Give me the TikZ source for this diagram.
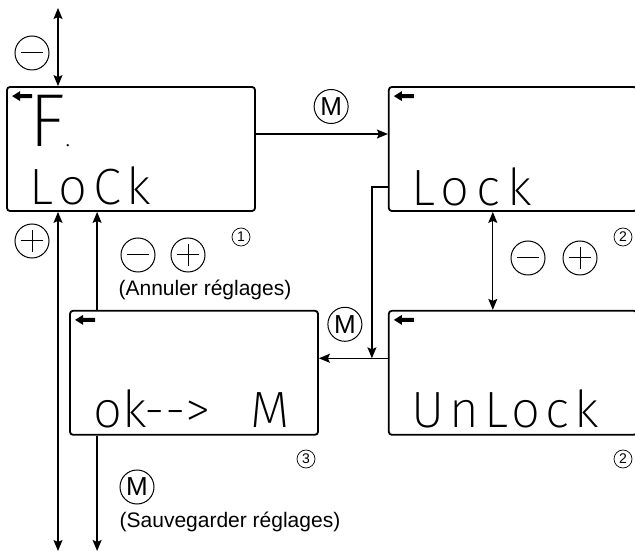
\documentclass[tikz,border=0pt]{standalone}
\usepackage{fontspec}
\setmainfont{Liberation Sans}
\newfontfamily\lcdfamily{Fira Sans ExtraLight}
\usepackage{tikz}
\usetikzlibrary{arrows.meta,positioning,calc}

\newcommand{\lcdfont}{\lcdfamily\fontsize{51}{51}\selectfont}

\begin{document}
\begin{tikzpicture}[
  x=1pt, y=1pt,
  node distance=98pt and 132pt,
  screen/.style={draw,rounded corners=3pt,line width=1.8pt,minimum width=248pt,minimum height=124pt,inner sep=0pt},
  lcd/.style={inner sep=0pt,anchor=base west,font=\lcdfont},
  arrow/.style={-{Stealth[length=11pt,width=9pt,inset=2pt]},line width=1.3pt},
  dblarrow/.style={{Stealth[length=11pt,width=9pt,inset=2pt]}-{Stealth[length=11pt,width=9pt,inset=2pt]},line width=1.3pt},
  key/.style={draw,circle,line width=1pt,minimum size=34pt,inner sep=0pt,font=\fontsize{26}{26}\selectfont},
  minuskey/.style={key,path picture={
    \draw[line width=1pt] ([xshift=-11pt]path picture bounding box.center) -- ([xshift=11pt]path picture bounding box.center);}},
  pluskey/.style={key,path picture={
    \draw[line width=1pt] ([xshift=-11pt]path picture bounding box.center) -- ([xshift=11pt]path picture bounding box.center);
    \draw[line width=1pt] ([yshift=-11pt]path picture bounding box.center) -- ([yshift=11pt]path picture bounding box.center);}},
  num/.style={draw,circle,line width=0.7pt,minimum size=18pt,inner sep=0pt,font=\fontsize{14}{14}\selectfont},
  note/.style={font=\fontsize{21}{24}\selectfont},
  backicon/.pic={\fill (6,-10) -- (14,-5) -- (14,-8) -- (26,-8) -- (26,-12) -- (14,-12) -- (14,-15) -- cycle;}
]
\useasboundingbox (0,0) rectangle (635,552);

% the four screens
\node[screen] (lock1) at (131,403) {};
\node[screen, right=of lock1] (lock2) {};
\node[screen, below=of lock2] (unlock) {};
\node[screen, left=69pt of unlock] (confirm) {};

\pic at (lock1.north west) {backicon};
\pic at (lock2.north west) {backicon};
\pic at (unlock.north west) {backicon};
\pic at (confirm.north west) {backicon};

% display texts
\node[lcd, font=\lcdfamily\fontsize{75}{75}\selectfont] (lcdF) at ([xshift=23pt,yshift=-60pt]lock1.north west) {F{\fontsize{28}{28}\selectfont .}};
\node[lcd] (lcd1) at ([xshift=23pt,yshift=-118pt]lock1.north west) {\addfontfeature{LetterSpace=12}LoCk};
\node[lcd] (lcd2) at ([xshift=23pt,yshift=-119pt]lock2.north west) {\addfontfeature{LetterSpace=14}Lock};
\node[lcd] (lcd3) at ([xshift=23pt,yshift=-118pt]unlock.north west) {\addfontfeature{LetterSpace=10}UnLock};
\node[lcd] (lcd4) at ([xshift=24pt,yshift=-118pt]confirm.north west) {ok-{}->\hspace{40pt}M};

% connectors
\draw[arrow] ([yshift=15pt]lock1.east) -- node[key, above=10pt, pos=0.57] (m1) {M} ([yshift=15pt]lock2.west);

\coordinate (join) at ([xshift=-16pt,yshift=14.5pt]unlock.west);
\draw[arrow] ([yshift=-38pt]lock2.west) -| (join);
\draw[arrow] ([yshift=14.5pt]unlock.west) -- ([yshift=14.5pt]confirm.east);
\node[key] (m2) at ([xshift=-27pt,yshift=34pt]join) {M};

\draw[dblarrow] ([xshift=-20pt]lock2.south) -- ([xshift=-20pt]unlock.north);
\node[minuskey] (minus2) at (528,294) {};
\node[pluskey] (plus2) at (580,294) {};

\coordinate (top) at (58,544);
\coordinate (bottom) at (58,1);
\draw[dblarrow] (top) -- (top |- lock1.north);
\draw[dblarrow] (bottom |- lock1.south) -- (bottom);
\node[minuskey] (minus1) at (32,499) {};
\node[pluskey] (plus1) at (32,311) {};

\coordinate (cancel) at ([xshift=28pt]confirm.north west);
\coordinate (save) at ([xshift=28pt]confirm.south west);
\draw[arrow] (cancel) -- (cancel |- lock1.south);
\draw[arrow] (save) -- (save |- bottom);
\node[minuskey] (minus3) at (138,297) {};
\node[pluskey] (plus3) at (188,297) {};
\node[note] (cancelnote) at (205,262) {(Annuler réglages)};
\node[key] (m3) at (137,65) {M};
\node[note] (savenote) at (230,30) {(Sauvegarder réglages)};

% step numbers
\node[num] (n1) at (241,315) {1};
\node[num] (n2) at (623,315) {2};
\node[num] (n3) at (306,93) {3};
\node[num] (n4) at (623,93) {2};
\end{tikzpicture}
\end{document}
